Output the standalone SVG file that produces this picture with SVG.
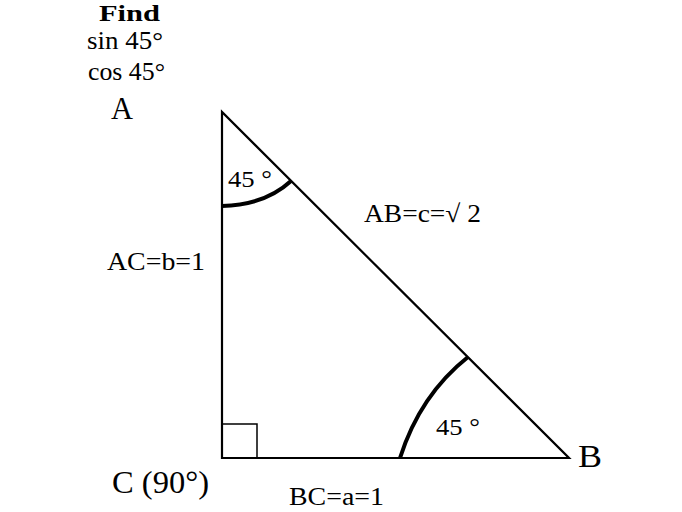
<svg xmlns="http://www.w3.org/2000/svg" width="682" height="512" viewBox="0 0 682 512">
<style>
.t{font-family:"Liberation Serif","DejaVu Serif",serif;fill:#000}
.h{font-size:25px}
.l{font-size:31px}
.m{font-size:25px}
.s{font-size:24px}
.edge{stroke:#000;stroke-width:2.2;fill:none}
.arc{stroke:#000;stroke-width:4;fill:none}
</style>
<rect width="682" height="512" fill="#fff"/>
<g id="header">
<text class="t" x="99" y="21" font-size="23" font-weight="bold" textLength="61" lengthAdjust="spacingAndGlyphs">Find</text>
<text class="t h" x="87" y="49" textLength="76" lengthAdjust="spacingAndGlyphs">sin 45°</text>
<text class="t h" x="88" y="80" textLength="77" lengthAdjust="spacingAndGlyphs">cos 45°</text>
</g>
<g id="connectors">
<path class="edge" d="M222,112 L222,458 L569,458 Z"/>
<path d="M222,424 H257 V458" stroke="#000" stroke-width="1.5" fill="none"/>
<path class="arc" d="M222,206 Q265,205 291,181"/>
<path class="arc" d="M400,458 Q420,395 468,357"/>
</g>
<g id="A"><text class="t l" x="111" y="119" textLength="22" lengthAdjust="spacingAndGlyphs">A</text></g>
<g id="B"><text class="t l" x="578" y="467" textLength="24" lengthAdjust="spacingAndGlyphs">B</text></g>
<g id="C"><text class="t l" x="112" y="493" textLength="97" lengthAdjust="spacingAndGlyphs">C (90°)</text></g>
<g id="labels">
<text class="t m" x="107" y="270" textLength="98" lengthAdjust="spacingAndGlyphs">AC=b=1</text>
<text class="t m" x="364" y="222" textLength="117" lengthAdjust="spacingAndGlyphs">AB=c=√ 2</text>
<text class="t m" x="289" y="505" textLength="95" lengthAdjust="spacingAndGlyphs">BC=a=1</text>
<text class="t s" x="228" y="187" textLength="44" lengthAdjust="spacingAndGlyphs">45 °</text>
<text class="t s" x="436" y="435" textLength="44" lengthAdjust="spacingAndGlyphs">45 °</text>
</g>
</svg>
